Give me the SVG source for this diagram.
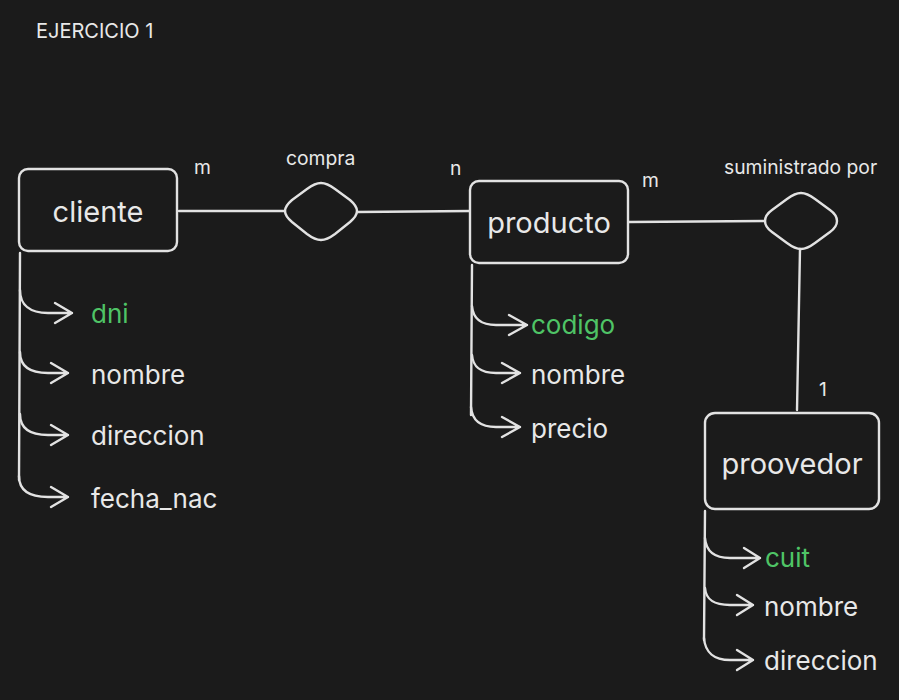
<svg xmlns="http://www.w3.org/2000/svg" width="899" height="700" viewBox="0 0 899 700">
<style>
.bg{fill:#1b1b1b}
.box{fill:#1b1b1b;stroke:#e2e2e2;stroke-width:2.4}
.ln{fill:none;stroke:#e2e2e2;stroke-width:2.4;stroke-linecap:round;stroke-linejoin:round}
.t{font-family:Inter,"Liberation Sans",sans-serif;fill:#e8e8e8}
.name{font-size:29px;text-anchor:middle;dominant-baseline:central}
.attr{font-size:26px;dominant-baseline:central}
.key{fill:#4fc466}
.lbl{font-size:19.3px}
.title{font-size:20px}
</style>
<rect class="bg" x="0" y="0" width="899" height="700"/>
<text class="t title" x="36" y="38">EJERCICIO 1</text>

<g id="connectors">
<path class="ln" d="M179,211 L285,211"/>
<path class="ln" d="M357,212 L470,211"/>
<path class="ln" d="M629,222 L765,221"/>
<path class="ln" d="M800,249 L797,410"/>
<!-- cliente attributes -->
<path class="ln" d="M20,253 L19,480"/>
<path class="ln" d="M20,290 C20,305 30,313 48,313 L72,313 M55,303 L72,313 L55,323"/>
<path class="ln" d="M20,352 C20,366 30,373 48,373 L68,373 M51,363 L68,373 L51,383"/>
<path class="ln" d="M20,414 C20,428 30,435 48,435 L68,435 M51,425 L68,435 L51,445"/>
<path class="ln" d="M19,476 C19,490 29,497 48,497 L68,497 M51,487 L68,497 L51,507"/>
<!-- producto attributes -->
<path class="ln" d="M472,265 L471,415"/>
<path class="ln" d="M472,306 C473,318 480,325 496,325 L527,325 M509,315 L527,325 L509,335"/>
<path class="ln" d="M472,355 C473,367 480,373 496,373 L520,373 M502,363 L520,373 L502,383"/>
<path class="ln" d="M471,407 C472,420 480,427 496,427 L520,427 M502,417 L520,427 L502,437"/>
<!-- proovedor attributes -->
<path class="ln" d="M705,511 L704,640"/>
<path class="ln" d="M705,538 C706,551 714,558 730,558 L760,558 M744,548 L760,558 L744,568"/>
<path class="ln" d="M705,588 C706,600 714,605 730,605 L753,605 M737,595 L753,605 L737,615"/>
<path class="ln" d="M704,638 C705,652 714,660 730,660 L753,660 M737,650 L753,660 L737,670"/>
</g>

<g id="cliente">
<rect class="box" x="19" y="169" width="158" height="82" rx="9"/>
<text class="t name" x="98" y="211">cliente</text>
</g>
<g id="cliente-attrs">
<text class="t attr key" x="91" y="313">dni</text>
<text class="t attr" x="91" y="374">nombre</text>
<text class="t attr" x="91" y="435">direccion</text>
<text class="t attr" x="91" y="498">fecha_nac</text>
</g>

<g id="compra">
<path class="ln" d="M321,183 Q327,183 335,189 L350,200 Q357,206 357,211 Q357,216 350,222 L335,234 Q327,240 321,240 Q315,240 307,234 L292,222 Q285,216 285,211 Q285,206 292,200 L307,189 Q315,183 321,183 Z" fill="#1b1b1b"/>
<text class="t lbl" x="286" y="165">compra</text>
<text class="t lbl" x="194" y="174">m</text>
<text class="t lbl" x="450" y="175">n</text>
</g>

<g id="producto">
<rect class="box" x="470" y="181" width="158" height="82" rx="9"/>
<text class="t name" x="549" y="222">producto</text>
</g>
<g id="producto-attrs">
<text class="t attr key" x="531" y="324">codigo</text>
<text class="t attr" x="531" y="374">nombre</text>
<text class="t attr" x="531" y="428">precio</text>
</g>

<g id="suministrado">
<path class="ln" d="M801,193 Q807,193 815,199 L830,210 Q837,215 837,221 Q837,227 830,232 L815,243 Q807,249 801,249 Q795,249 787,243 L772,232 Q765,227 765,221 Q765,215 772,210 L787,199 Q795,193 801,193 Z" fill="#1b1b1b"/>
<text class="t lbl" x="724" y="174">suministrado por</text>
<text class="t lbl" x="642" y="187">m</text>
<text class="t lbl" x="819" y="396">1</text>
</g>

<g id="proovedor">
<rect class="box" x="705" y="413" width="174" height="96" rx="10"/>
<text class="t name" x="792" y="463">proovedor</text>
</g>
<g id="proovedor-attrs">
<text class="t attr key" x="765" y="557">cuit</text>
<text class="t attr" x="764" y="606">nombre</text>
<text class="t attr" x="764" y="660">direccion</text>
</g>
</svg>
